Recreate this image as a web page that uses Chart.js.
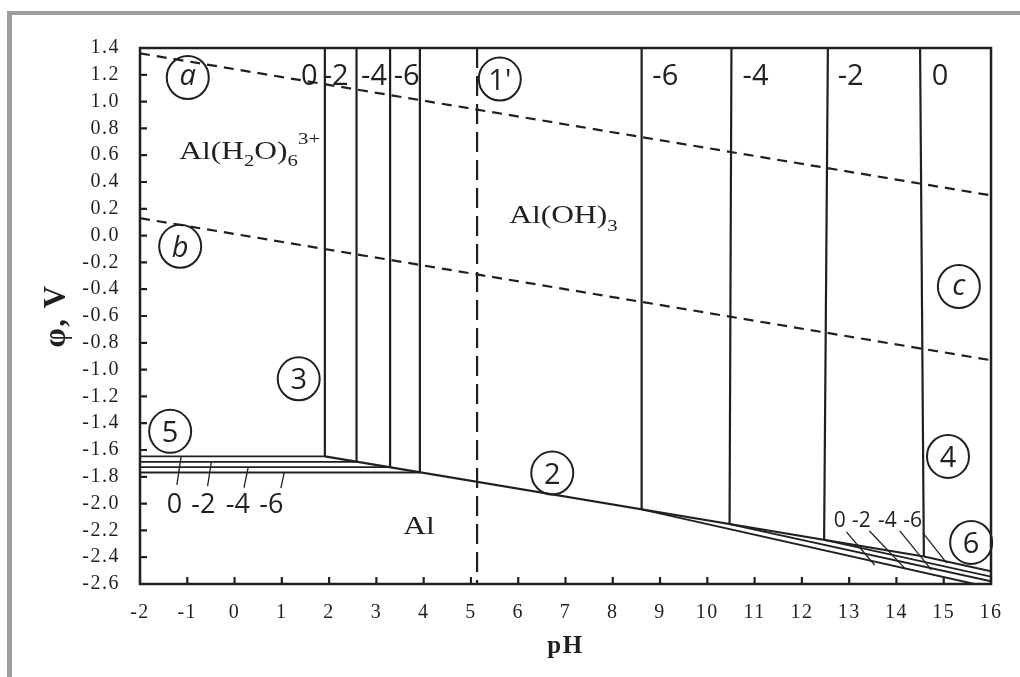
<!DOCTYPE html>
<html><head><meta charset="utf-8">
<script src="https://cdn.jsdelivr.net/npm/chart.js@4.4.1/dist/chart.umd.min.js"></script>
<style>
html,body{margin:0;padding:0;background:#fff;}
#wrap{position:relative;width:1020px;height:677px;overflow:hidden;background:#fff;}
#frame{position:absolute;left:7px;top:11px;width:1100px;height:800px;border-top:4px solid #9d9ea0;border-left:5px solid #9d9ea0;}
canvas{position:absolute;left:0;top:0;}
</style></head><body>
<div id="wrap"><div id="frame"></div><canvas id="c" width="1020" height="677"></canvas></div>
<script>
// ---------- tick labels ----------
const xTicks = [-2,-1,0,1,2,3,4,5,6,7,8,9,10,11,12,13,14,15,16];
const yTicks = [-2.6,-2.4,-2.2,-2.0,-1.8,-1.6,-1.4,-1.2,-1.0,-0.8,-0.6,-0.4,-0.2,0.0,0.2,0.4,0.6,0.8,1.0,1.2,1.4];
// concentration labels (log C)
const logC = ['0','-2','-4','-6'];

// ---------- series values [pH, E (V)] ----------
// dashed water lines a and b, dashed vertical 1'
const lineA = [[-2, 1.36], [16, 0.30]];
const lineB = [[-2, 0.13], [16, -0.93]];
const line1p = [[5.13, 1.4], [5.13, -2.6]];
// acid side: line 3 (vertical) pH and line 5 (horizontal) potential, per logC
const acidPH = [1.91, 2.58, 3.29, 3.92];
const acidE = [-1.648, -1.688, -1.728, -1.768];
// line 2: Al(OH)3 / Al
const line2 = [[1.91, -1.648], [14.58, -2.395]];
// alkaline side: line 4 (verticals) top pH, bottom pH, bottom E, per logC
const alkTopPH = [14.50, 12.55, 10.51, 8.61];
const alkBotPH = [14.58, 12.47, 10.47, 8.61];
const alkBotE = [-2.395, -2.271, -2.153, -2.043];
// line 6 end points, per logC
const line6EndPH = [16, 16, 16, 15.65];
const line6EndE = [-2.505, -2.545, -2.58, -2.60];
// leader lines from the concentration labels
const leadLeftFrom = [[-1.22, -1.86], [-0.57, -1.87], [0.20, -1.88], [0.98, -1.885]];
const leadLeftTo = [[-1.13, -1.648], [-0.49, -1.688], [0.29, -1.728], [1.05, -1.768]];
const leadRightFrom = [[12.94, -2.211], [13.43, -2.204], [14.07, -2.204], [14.56, -2.219]];
const leadRightTo = [[13.54, -2.458], [14.17, -2.48], [14.74, -2.495], [15.06, -2.443]];

// ---------- annotation texts (data coordinates) ----------
const topLeftPH = [1.58, 2.14, 2.95, 3.64];
const topRightPH = [14.92, 13.03, 11.02, 9.11];
const topLabelE = 1.123;
const botLeftPH = [-1.27, -0.66, 0.07, 0.78];
const botLeftE = -2.069;
const botRightPH = [12.80, 13.26, 13.81, 14.34];
const botRightE = -2.172;
const circleLabels = [
  {t:'a', x:-0.99, y:1.18, it:true},
  {t:'b', x:-1.15, y:-0.08, it:true},
  {t:"1'", x:5.61, y:1.168},
  {t:'c', x:15.32, y:-0.38, it:true},
  {t:'3', x:1.357, y:-1.069},
  {t:'5', x:-1.362, y:-1.461},
  {t:'2', x:6.72, y:-1.772},
  {t:'4', x:15.09, y:-1.648},
  {t:'6', x:15.58, y:-2.29}
];
const speciesLabels = [
  {parts:[{t:'Al(H'},{t:'2',sub:true},{t:'O)'},{t:'6',sub:true},{t:'3+',sup:true}], x:-1.17, y:0.570},
  {parts:[{t:'Al(OH)'},{t:'3',sub:true}], x:5.81, y:0.092},
  {parts:[{t:'Al'}], x:3.57, y:-2.226}
];

// ---------- styles ----------
const INK = '#231f20';
const SERIF = '"Liberation Serif", "Times New Roman", serif';
const SANS = '"Open Sans", sans-serif';
const toPts = arr => arr.map(([x, y]) => ({x, y}));
const solid = (arr, w) => ({data: toPts(arr), showLine: true, borderColor: INK, borderWidth: w || 2.2,
  pointRadius: 0, pointHoverRadius: 0, fill: false, tension: 0});
const dashed = (arr, dash) => Object.assign(solid(arr, 2.2), {borderDash: dash});

const xMin = xTicks[0], xMax = xTicks[xTicks.length - 1];
const yMin = yTicks[0], yMax = yTicks[yTicks.length - 1];

const datasets = [];
datasets.push(dashed(lineA, [10, 7]));
datasets.push(dashed(lineB, [10, 7]));
datasets.push(dashed(line1p, [20, 8]));
acidPH.forEach((ph, i) => datasets.push(solid([[ph, yMax], [ph, acidE[i]]])));
acidPH.forEach((ph, i) => datasets.push(solid([[xMin, acidE[i]], [ph, acidE[i]]], 1.8)));
datasets.push(solid(line2));
alkTopPH.forEach((ph, i) => datasets.push(solid([[ph, yMax], [alkBotPH[i], alkBotE[i]]])));
alkBotPH.forEach((ph, i) => datasets.push(solid([[ph, alkBotE[i]], [line6EndPH[i], line6EndE[i]]], 1.9)));
leadLeftFrom.forEach((p, i) => datasets.push(solid([p, leadLeftTo[i]], 1.3)));
leadRightFrom.forEach((p, i) => datasets.push(solid([p, leadRightTo[i]], 1.3)));

function drawRich(ctx, parts, px, py, size, stretch) {
  ctx.save();
  ctx.translate(px, py);
  ctx.scale(stretch, 1);
  ctx.textAlign = 'left';
  ctx.textBaseline = 'alphabetic';
  let cx = 0;
  for (const p of parts) {
    const s = (p.sub || p.sup) ? size * 0.66 : size;
    ctx.font = s + 'px ' + SERIF;
    const dy = p.sub ? size * 0.29 : (p.sup ? -size * 0.6 : 0);
    ctx.fillText(p.t, cx, dy);
    cx += ctx.measureText(p.t).width;
  }
  ctx.restore();
}

const annotPlugin = {
  id: 'annot',
  beforeDraw(chart) { chart.ctx.letterSpacing = '1.5px'; },
  afterDraw(chart) {
    const {ctx, chartArea: a, scales: {x, y}} = chart;
    ctx.save();
    ctx.letterSpacing = '0px';
    ctx.fillStyle = INK;
    ctx.strokeStyle = INK;
    // plot frame
    ctx.lineWidth = 2.5;
    ctx.strokeRect(a.left, a.top, a.right - a.left, a.bottom - a.top);
    // inward ticks
    ctx.lineWidth = 2.2;
    ctx.beginPath();
    xTicks.forEach(v => { const px = x.getPixelForValue(v); ctx.moveTo(px, a.bottom); ctx.lineTo(px, a.bottom - 7); });
    yTicks.forEach(v => { const py = y.getPixelForValue(v); ctx.moveTo(a.left, py); ctx.lineTo(a.left + 7, py); });
    ctx.stroke();
    // circled labels
    ctx.lineWidth = 2;
    ctx.textAlign = 'center';
    ctx.textBaseline = 'alphabetic';
    circleLabels.forEach(c => {
      const cx = x.getPixelForValue(c.x), cy = y.getPixelForValue(c.y);
      ctx.beginPath();
      ctx.ellipse(cx, cy, 21, 21.5, 0, 0, Math.PI * 2);
      ctx.stroke();
      ctx.font = (c.it ? 'italic ' : '') + '29px ' + SANS;
      const m = ctx.measureText(c.t);
      ctx.fillText(c.t, cx, cy + (m.actualBoundingBoxAscent - m.actualBoundingBoxDescent) / 2);
    });
    // concentration labels
    const group = (phs, e, size) => {
      ctx.font = size + 'px ' + SANS;
      phs.forEach((ph, i) => ctx.fillText(logC[i], x.getPixelForValue(ph), y.getPixelForValue(e)));
    };
    group(topLeftPH, topLabelE, 29);
    group(topRightPH, topLabelE, 29);
    group(botLeftPH, botLeftE, 27);
    group(botRightPH, botRightE, 21);
    // species labels
    speciesLabels.forEach(s => drawRich(ctx, s.parts, x.getPixelForValue(s.x), y.getPixelForValue(s.y), 25, 1.26));
    ctx.restore();
  }
};

new Chart(document.getElementById('c'), {
  type: 'scatter',
  data: {datasets},
  options: {
    responsive: false,
    animation: false,
    events: [],
    layout: {padding: {top: 48, right: 29, left: 0, bottom: 0}},
    plugins: {legend: {display: false}, tooltip: {enabled: false}},
    scales: {
      x: {
        type: 'linear', min: xMin, max: xMax,
        grid: {display: false, drawTicks: false},
        border: {display: false},
        afterBuildTicks: s => { s.ticks = xTicks.map(v => ({value: v})); },
        afterFit: s => { s.height = 93; },
        ticks: {padding: 17, color: INK, autoSkip: false, maxRotation: 0,
          font: {family: SERIF, size: 20}, callback: v => String(v)},
        title: {display: true, text: 'pH', color: INK,
          font: {family: SERIF, size: 25, weight: 'bold'}, padding: {top: 0, bottom: 15}}
      },
      y: {
        type: 'linear', min: yMin, max: yMax,
        grid: {display: false, drawTicks: false},
        border: {display: false},
        afterBuildTicks: s => { s.ticks = yTicks.map(v => ({value: v})); },
        afterFit: s => { s.width = 140; },
        ticks: {padding: 20, color: INK, autoSkip: false,
          font: {family: SERIF, size: 20}, callback: v => Number(v).toFixed(1)},
        title: {display: true, text: 'φ, V', color: INK,
          font: {family: SERIF, size: 31, weight: 'bold'}, padding: {top: 38, bottom: 0}}
      }
    }
  },
  plugins: [annotPlugin]
});
</script>
</body></html>
